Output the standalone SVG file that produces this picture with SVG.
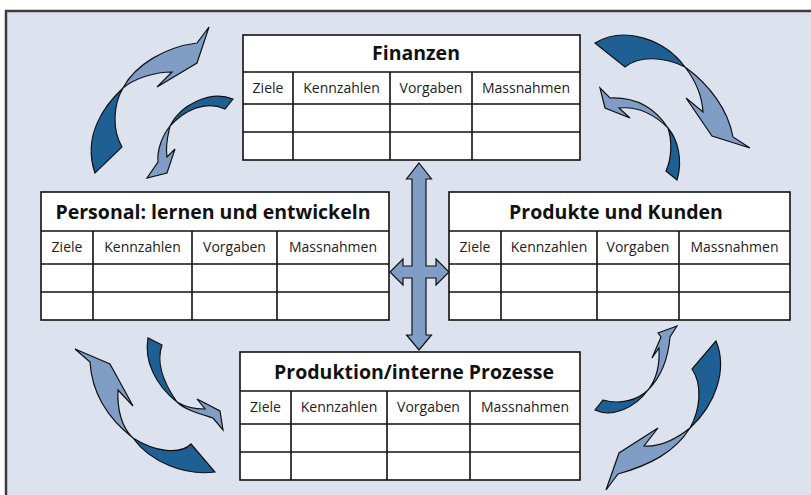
<svg xmlns="http://www.w3.org/2000/svg" width="811" height="495" viewBox="0 0 811 495">
<style>
.cell{fill:#fff;stroke:#111;stroke-width:1.6}
.ln{stroke:#111;stroke-width:1.6}
.title{font-family:"Open Sans","Liberation Sans",sans-serif;font-weight:bold;font-size:19.5px;fill:#111;text-anchor:middle}
.hd{font-family:"Open Sans","Liberation Sans",sans-serif;font-size:14px;fill:#222;text-anchor:middle}
.dk{fill:#1f6094;stroke:#111;stroke-width:1.2}
.lt{fill:#7f9dc5;stroke:#111;stroke-width:1.2}
</style>
<rect x="6" y="11" width="815" height="495" fill="#dce3ef" stroke="#3c3c3c" stroke-width="2.5"/>

<g id="connectors">
  <!-- top-left -->
  <path class="dk" d="M123,88 C105,105 82,135 95,173 L122,147 C112,130 113,105 123,88 Z"/>
  <path class="lt" d="M123,88 C135,65 165,47 197,43 L209,27 L197,63 L157,87 L172,72 C155,72 135,78 123,88 Z"/>
  <path class="dk" d="M170,126 C180,105 210,90 233,99 L225,109 C205,100 185,110 170,126 Z"/>
  <path class="lt" d="M170,126 C162,136 157,150 158,162 L147,178 L167,173 L175,149 L167,157 C165,145 168,135 170,126 Z"/>
  <!-- top-right -->
  <path class="dk" d="M595,43 C625,25 665,40 685,67 C665,57 640,55 625,67 Z"/>
  <path class="lt" d="M685,67 C710,85 728,110 733,137 L750,148 L712,136 L686,98 L703,112 C702,95 695,80 685,67 Z"/>
  <path class="lt" d="M600,88 L610,98 C635,97 655,108 668,128 C655,115 640,106 619,108 L630,118 L605,108 Z"/>
  <path class="dk" d="M668,128 C678,140 683,160 677,180 L666,171 C672,158 672,140 668,128 Z"/>
  <!-- bottom-left -->
  <path class="lt" d="M75,349 L110,364 L133,406 L118,390 C117,410 122,428 133,438 C110,420 92,395 90,362 Z"/>
  <path class="dk" d="M133,438 C150,462 185,476 215,472 L191,444 C180,455 155,452 133,438 Z"/>
  <path class="dk" d="M148,338 C144,360 155,385 177,402 C165,385 155,365 162,345 Z"/>
  <path class="lt" d="M177,402 C185,407 195,409 205,409 L197,399 L220,411 L223,430 L213,418 C200,414 185,410 177,402 Z"/>
  <!-- bottom-right -->
  <path class="lt" d="M677,326 L658,333 L661,337 L652,358 L659,348 C660,365 656,380 648,390 C660,378 668,360 670,337 Z"/>
  <path class="dk" d="M648,390 C635,408 612,418 595,410 L603,400 C620,405 638,400 648,390 Z"/>
  <path class="dk" d="M716,341 C728,370 715,405 690,428 C700,410 703,385 692,369 Z"/>
  <path class="lt" d="M690,428 C675,440 660,447 644,446 L658,428 L619,453 L606,490 L618,474 C650,465 675,452 690,428 Z"/>
  <!-- center cross -->
  <polygon class="lt" stroke-width="1.5" points="419,163 431.5,179 426,179 426,266 436,266 436,259 449,272 436,285 436,278 426,278 426,335 431.5,335 419,350 406.5,335 412,335 412,278 403,278 403,285 390,272 403,259 403,266 412,266 412,179 406.5,179"/>
</g>

<g id="finanzen">
  <rect class="cell" x="243" y="35" width="337" height="125"/>
  <line class="ln" x1="243" y1="72" x2="580" y2="72"/>
  <line class="ln" x1="243" y1="104" x2="580" y2="104"/>
  <line class="ln" x1="243" y1="132" x2="580" y2="132"/>
  <line class="ln" x1="293" y1="72" x2="293" y2="160"/>
  <line class="ln" x1="390" y1="72" x2="390" y2="160"/>
  <line class="ln" x1="472" y1="72" x2="472" y2="160"/>
  <text class="title" x="416" y="60">Finanzen</text>
  <text class="hd" x="268" y="93">Ziele</text>
  <text class="hd" x="341.5" y="93">Kennzahlen</text>
  <text class="hd" x="431" y="93">Vorgaben</text>
  <text class="hd" x="526" y="93">Massnahmen</text>
</g>

<g id="personal">
  <rect class="cell" x="41" y="192" width="348" height="128"/>
  <line class="ln" x1="41" y1="231" x2="389" y2="231"/>
  <line class="ln" x1="41" y1="264" x2="389" y2="264"/>
  <line class="ln" x1="41" y1="292" x2="389" y2="292"/>
  <line class="ln" x1="93" y1="231" x2="93" y2="320"/>
  <line class="ln" x1="192" y1="231" x2="192" y2="320"/>
  <line class="ln" x1="277" y1="231" x2="277" y2="320"/>
  <text class="title" x="213" y="219">Personal: lernen und entwickeln</text>
  <text class="hd" x="67" y="252">Ziele</text>
  <text class="hd" x="142.5" y="252">Kennzahlen</text>
  <text class="hd" x="234.5" y="252">Vorgaben</text>
  <text class="hd" x="333" y="252">Massnahmen</text>
</g>

<g id="produkte">
  <rect class="cell" x="449" y="192" width="341" height="128"/>
  <line class="ln" x1="449" y1="231" x2="790" y2="231"/>
  <line class="ln" x1="449" y1="264" x2="790" y2="264"/>
  <line class="ln" x1="449" y1="292" x2="790" y2="292"/>
  <line class="ln" x1="501" y1="231" x2="501" y2="320"/>
  <line class="ln" x1="597" y1="231" x2="597" y2="320"/>
  <line class="ln" x1="679" y1="231" x2="679" y2="320"/>
  <text class="title" x="616" y="219">Produkte und Kunden</text>
  <text class="hd" x="475" y="252">Ziele</text>
  <text class="hd" x="549" y="252">Kennzahlen</text>
  <text class="hd" x="638" y="252">Vorgaben</text>
  <text class="hd" x="734.5" y="252">Massnahmen</text>
</g>

<g id="produktion">
  <rect class="cell" x="240" y="352" width="340" height="128"/>
  <line class="ln" x1="240" y1="391" x2="580" y2="391"/>
  <line class="ln" x1="240" y1="424" x2="580" y2="424"/>
  <line class="ln" x1="240" y1="452" x2="580" y2="452"/>
  <line class="ln" x1="291" y1="391" x2="291" y2="480"/>
  <line class="ln" x1="387" y1="391" x2="387" y2="480"/>
  <line class="ln" x1="470" y1="391" x2="470" y2="480"/>
  <text class="title" x="414" y="379">Produktion/interne Prozesse</text>
  <text class="hd" x="265.5" y="412">Ziele</text>
  <text class="hd" x="339" y="412">Kennzahlen</text>
  <text class="hd" x="428.5" y="412">Vorgaben</text>
  <text class="hd" x="525" y="412">Massnahmen</text>
</g>
</svg>
